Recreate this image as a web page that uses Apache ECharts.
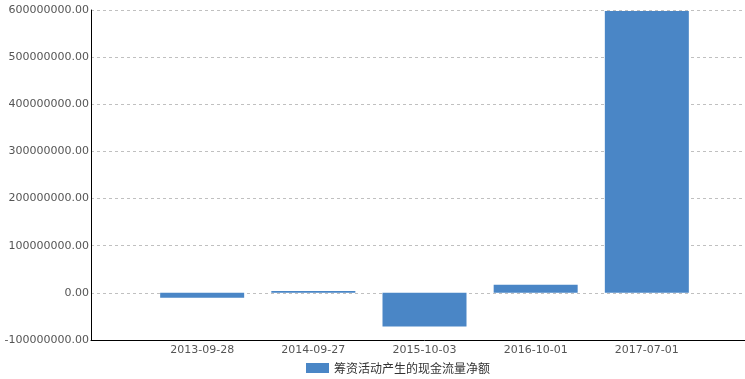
<!DOCTYPE html>
<html>
<head>
<meta charset="utf-8">
<script src="https://cdn.jsdelivr.net/npm/echarts@6/dist/echarts.min.js"></script>
<style>html,body{margin:0;padding:0;background:#fff;overflow:hidden;width:745px;height:379px}#c{width:761px;height:379px}</style>
</head>
<body>
<div id="c"></div>
<script>
var categories = ['', '2013-09-28', '2014-09-27', '2015-10-03', '2016-10-01', '2017-07-01', ''];
var seriesName = '筹资活动产生的现金流量净额';
var values = [null, -10500000, 4000000, -71400000, 17000000, 597800000, null];
var yMin = -100000000, yMax = 600000000, yInterval = 100000000;

var chart = echarts.init(document.getElementById('c'));
chart.setOption({
  animation: false,
  grid: { left: 91, right: 0, top: 10, bottom: 39, containLabel: false },
  legend: {
    data: [seriesName],
    left: 301, top: 357,
    itemWidth: 23, itemHeight: 10, itemGap: 10,
    icon: 'rect',
    textStyle: { fontFamily: '"Noto Sans CJK SC", sans-serif', fontSize: 12, color: '#333' }
  },
  xAxis: {
    type: 'category',
    data: categories,
    boundaryGap: false,
    axisLine: { onZero: false, lineStyle: { color: '#000', width: 1 } },
    axisTick: { show: false },
    splitLine: { show: false },
    axisLabel: { color: '#555', fontFamily: '"DejaVu Sans", sans-serif', fontSize: 11, margin: 5, interval: 0 }
  },
  yAxis: {
    type: 'value',
    min: yMin, max: yMax, interval: yInterval,
    axisLine: { show: true, lineStyle: { color: '#000', width: 1 } },
    axisTick: { show: false },
    splitLine: { show: true, lineStyle: { color: '#c0c0c0', type: [3, 3] } },
    axisLabel: {
      color: '#555', fontFamily: '"DejaVu Sans", sans-serif', fontSize: 11, margin: 2,
      formatter: function (v) { return v.toFixed(2); }
    }
  },
  series: [{
    name: seriesName,
    type: 'bar',
    data: values,
    barWidth: 84,
    itemStyle: { color: '#4a86c6' }
  }]
});
</script>
</body>
</html>
